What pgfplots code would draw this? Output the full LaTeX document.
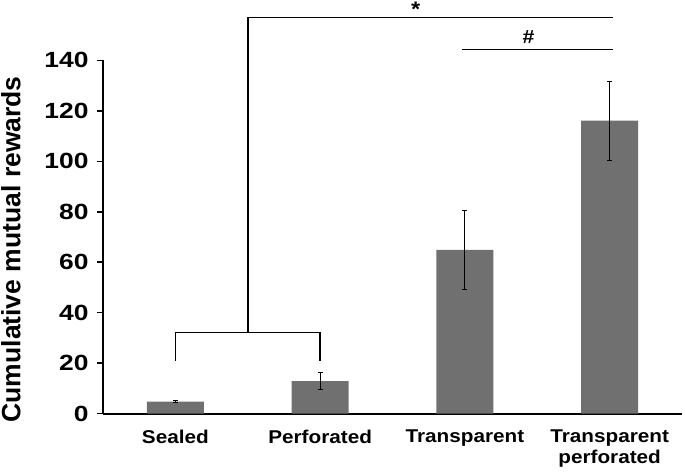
\documentclass[border=0pt]{standalone}
\usepackage{fontspec}
\setmainfont{Liberation Sans}
\newfontfamily\wide{Liberation Sans}[FakeStretch=1.12]
\newfontfamily\wider{Liberation Sans}[FakeStretch=1.2]
\usepackage{pgfplots}
\pgfplotsset{compat=1.18}
\definecolor{bargray}{RGB}{112,112,112}
\begin{document}
\begin{tikzpicture}
\useasboundingbox (-103pt,-62.3pt) rectangle (582pt,413.7pt);
\begin{axis}[
  scale only axis,
  width=579pt, height=353.4pt,
  xmin=-0.5, xmax=3.5, ymin=0, ymax=140,
  axis x line*=bottom, axis y line*=left,
  axis line style={-, line width=1.8pt},
  clip=false,
  ybar, bar width=57pt,
  xtick={0,1,2,3},
  xticklabels={Sealed, Perforated, Transparent, {Transparent\\perforated}},
  xticklabel style={font=\wide\fontsize{18.5}{20.5}\selectfont\bfseries, align=center, yshift=-7pt},
  xtick style={draw=none},
  minor xtick={-0.5,0.5,1.5,2.5,3.5},
  minor x tick style={line width=1.5pt, black},
  minor tick length=8pt,
  ytick={0,20,...,140},
  ytick style={line width=1.5pt, black},
  major tick length=6pt,
  tick align=outside,
  yticklabel style={font=\wider\fontsize{22}{26}\selectfont\bfseries, xshift=-5pt},
  /pgf/number format/assume math mode=true,
  ylabel={Cumulative mutual rewards},
  ylabel style={font=\fontsize{26.5}{30}\selectfont\bfseries, at={([xshift=-92pt]axis description cs:0,0.465)}, anchor=center, rotate=0},
]
\addplot[fill=bargray, draw=none,
  error bars/.cd, y dir=both, y explicit,
  error bar style={line width=0.9pt, black},
  error mark options={line width=0.9pt, black, mark size=2.5pt, rotate=90}]
  coordinates {
  (0,4.8) +- (0,0.3)
  (1,12.9) +- (0,3.45)
  (2,64.9) +- (0,15.65)
  (3,116.1) +- (0,15.7)
};
\draw[line width=1.6pt] (axis cs:0,21.0) -- (axis cs:0,32.2) -- (axis cs:1,32.2) -- (axis cs:1,21.0);
\draw[line width=1.6pt] (axis cs:0.5,32.2) -- (axis cs:0.5,156.9) -- (axis cs:3.02,156.9);
\draw[line width=1.6pt] (axis cs:1.98,144.2) -- (axis cs:3.02,144.2);
\node[font=\wide\fontsize{21}{24}\selectfont\bfseries, anchor=base, inner sep=0pt] at (axis cs:1.66,157.2) {*};
\node[font=\wide\fontsize{19}{22}\selectfont\bfseries, anchor=base, inner sep=0pt] at (axis cs:2.44,146.5) {\#};
\end{axis}
\end{tikzpicture}
\end{document}
